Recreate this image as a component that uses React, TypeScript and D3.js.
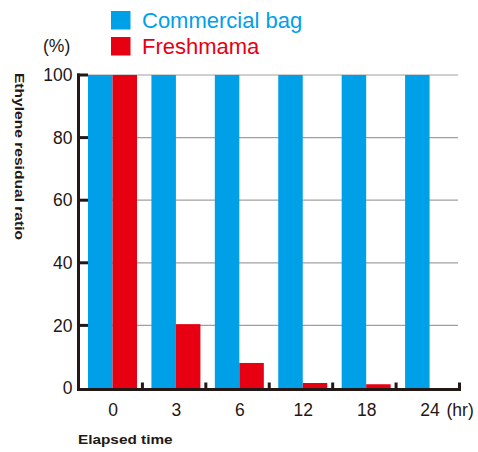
import React from "react";
import * as d3 from "d3";

const categories = ["0", "3", "6", "12", "18", "24"];
const commercialBag = [100, 100, 100, 100, 100, 100];
const freshmama = [100, 20.4, 8, 1.6, 1.2, null];
const yTicks = [0, 20, 40, 60, 80, 100];
const seriesNames = ["Commercial bag", "Freshmama"];

const BLUE = "#00a0e9";
const RED = "#e60012";
const INK = "#231815";
const FONT = "'Liberation Sans', Arial, sans-serif";

export default function App() {
  const W = 478, H = 452;
  const x = d3.scaleBand<string>().domain(categories).range([79, 459.5]).padding(0);
  const sub = d3.scaleBand<string>().domain(seriesNames).range([9, 58]).padding(0);
  const y = d3.scaleLinear().domain([0, 100]).range([388, 75]);
  const series = [commercialBag, freshmama];
  const colors = [BLUE, RED];

  return (
    <svg width={W} height={H} style={{ position: "absolute", left: 0, top: 0 }}>
      <rect width={W} height={H} fill="#fff" />
      {/* gridlines */}
      {yTicks.filter((t) => t > 0).map((t) => (
        <line key={t} x1={79} x2={458} y1={y(t)} y2={y(t)} stroke="#a0a0a0" strokeWidth={1.2} />
      ))}
      {/* bars */}
      {series.map((vals, si) =>
        categories.map((c, i) => {
          const v = vals[i];
          if (v == null) return null;
          return (
            <rect
              key={si + "-" + c}
              x={(x(c) as number) + (sub(seriesNames[si]) as number)}
              width={sub.bandwidth()}
              y={y(v)}
              height={y(0) - y(v)}
              fill={colors[si]}
            />
          );
        })
      )}
      {/* y axis */}
      <line x1={78.5} x2={78.5} y1={y(100) - 1.5} y2={391} stroke={INK} strokeWidth={3} />
      {yTicks.filter((t) => t > 0).map((t) => (
        <line key={"yt" + t} x1={77} x2={88} y1={y(t)} y2={y(t)} stroke={INK} strokeWidth={3} />
      ))}
      {yTicks.map((t) => (
        <text key={"yl" + t} x={72.5} y={y(t) + 6.2} textAnchor="end" fontSize={17.5} fill={INK} fontFamily={FONT}>
          {t}
        </text>
      ))}
      <text x={43} y={51.5} fontSize={17.5} fill={INK} fontFamily={FONT}>(%)</text>
      {/* x axis */}
      <line x1={77} x2={461} y1={389.5} y2={389.5} stroke={INK} strokeWidth={3} />
      {categories.map((c) => (
        <line
          key={"xt" + c}
          x1={(x(c) as number) + x.bandwidth()}
          x2={(x(c) as number) + x.bandwidth()}
          y1={382.5}
          y2={390}
          stroke={INK}
          strokeWidth={3}
        />
      ))}
      {categories.map((c) => (
        <text
          key={"xl" + c}
          x={(x(c) as number) + 34}
          y={416}
          textAnchor="middle"
          fontSize={17.5}
          fill={INK}
          fontFamily={FONT}
        >
          {c}
        </text>
      ))}
      <text x={446.5} y={416} fontSize={17.5} fill={INK} fontFamily={FONT}>(hr)</text>
      {/* axis titles */}
      <text
        transform="translate(14.5,156.5) rotate(90) scale(1.2,1)"
        textAnchor="middle"
        fontSize={13}
        fontWeight="bold"
        fill={INK}
        fontFamily={FONT}
      >
        Ethylene residual ratio
      </text>
      <text
        transform="translate(78,444) scale(1.18,1)"
        fontSize={13}
        fontWeight="bold"
        fill={INK}
        fontFamily={FONT}
      >
        Elapsed time
      </text>
      {/* legend */}
      {seriesNames.map((s, i) => (
        <g key={"lg" + s}>
          <rect x={111} y={11} transform={`translate(0,${i * 26})`} width={19.5} height={18.5} fill={colors[i]} />
          <text x={142} y={28.3 + i * 26} fontSize={22} fill={colors[i]} fontFamily={FONT}>
            {s}
          </text>
        </g>
      ))}
    </svg>
  );
}
